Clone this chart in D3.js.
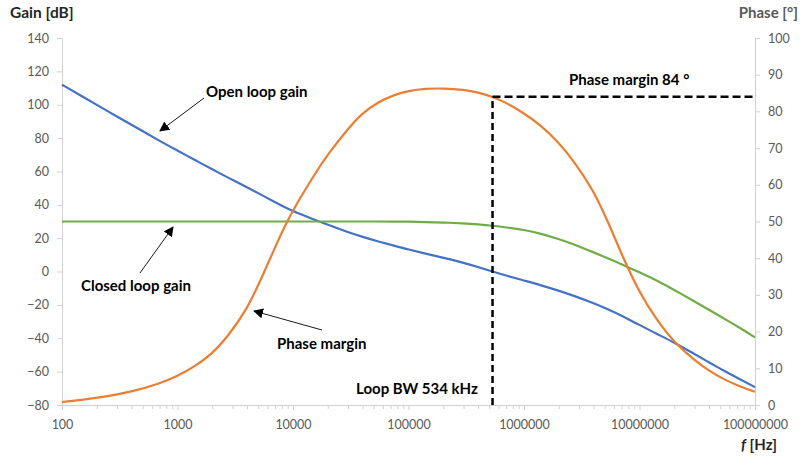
<!DOCTYPE html>
<html>
<head>
<meta charset="utf-8">
<script src="https://cdn.jsdelivr.net/npm/d3@7"></script>
<style>
  html, body { margin: 0; padding: 0; background: #fff; }
  svg { display: block; font-family: Lato, "Open Sans", sans-serif; }
</style>
</head>
<body>
<svg id="chart" width="800" height="459"></svg>
<script>
// Frequency sweep (Hz)
const freqs = [100, 150, 250, 400, 700, 1000, 1400, 2000, 2700, 4000, 5500, 7000, 9000,
  12000, 15000, 20000, 30000, 40000, 55000, 75000, 100000, 140000, 200000, 300000,
  400000, 534000, 700000, 1000000, 1400000, 2000000, 2700000, 4000000, 5500000,
  7000000, 10000000, 14000000, 20000000, 30000000, 40000000, 55000000, 75000000, 100000000];

// Open loop gain (dB)
const openLoopGain = [112, 105, 96, 88, 78.3, 72.5, 67, 61.3, 56.5, 50.5, 45.5, 41.5, 37.6,
  34, 31.3, 28.1, 23.6, 20.8, 18, 15.5, 13.2, 10.8, 8.3, 5.3,
  2.7, 0, -2.4, -5.4, -8.2, -11.5, -14.5, -19, -23,
  -26.5, -32, -37.3, -42.5, -49.5, -54.5, -59.8, -64.8, -69.3];

// Closed loop gain (dB)
const closedLoopGain = [30, 30, 30, 30, 30, 30, 30, 30, 30, 30, 30, 30, 30,
  30, 30, 30, 30, 30, 30, 30, 29.9, 29.7, 29.4, 28.9,
  28.3, 27.5, 26.5, 25, 22.8, 19.5, 16.3, 11.5, 7.5,
  4.4, -0.5, -5.2, -11, -18, -23, -28.5, -34, -39.5];

// Loop phase (degrees, right axis)
const phase = [0.8, 1.4, 2.4, 3.6, 5.8, 7.9, 10.4, 14, 18.5, 26, 35.5, 43, 50.5,
  57.3, 62.3, 68.3, 75.3, 79.6, 82.6, 84.5, 85.6, 86.2, 86.3, 85.9,
  85.2, 84, 82.4, 79.5, 76.2, 71.5, 66.5, 58.5, 49,
  41, 30.5, 23.3, 17, 12.2, 9.3, 6.8, 5, 3.6];

// Axis ticks
const gainTicks = [140, 120, 100, 80, 60, 40, 20, 0, -20, -40, -60, -80];
const phaseTicks = [100, 90, 80, 70, 60, 50, 40, 30, 20, 10, 0];
const freqTicks = [100, 1000, 10000, 100000, 1000000, 10000000, 100000000];

// Loop bandwidth marker
const loopBW = 534000;
const phaseMargin = 84;

const svg = d3.select("#chart");
const plotL = 62, plotR = 755, plotT = 38, plotB = 405;

const x = d3.scaleLog().domain([100, 1e8]).range([plotL, plotR]);
const yGain = d3.scaleLinear().domain([-80, 140]).range([plotB, plotT]);
const yPhase = d3.scaleLinear().domain([0, 100]).range([plotB, plotT]);

const axisColor = "#d0d0d0";
const labelColor = "#595959";

// Left axis
svg.append("g").attr("transform", `translate(${plotL},0)`)
  .call(d3.axisLeft(yGain).tickValues(gainTicks).tickSize(5).tickPadding(8).tickFormat(d3.format("d")));
// Right axis
svg.append("g").attr("transform", `translate(${plotR},0)`)
  .call(d3.axisRight(yPhase).tickValues(phaseTicks).tickSize(5).tickPadding(8).tickFormat(d3.format("d")));
// Bottom axis: decades labelled, minor ticks between
const minorTicks = [];
for (let e = 2; e < 8; e++) for (let m = 2; m <= 9; m++) minorTicks.push(m * Math.pow(10, e));
svg.append("g").attr("transform", `translate(0,${plotB})`)
  .call(d3.axisBottom(x).tickValues(minorTicks).tickSize(4).tickFormat(""))
  .call(g => g.select(".domain").remove());
svg.append("g").attr("transform", `translate(0,${plotB})`)
  .call(d3.axisBottom(x).tickValues(freqTicks).tickSize(5).tickPadding(10).tickFormat(d3.format("d")));

svg.selectAll(".domain").attr("stroke", axisColor);
svg.selectAll(".tick line").attr("stroke", axisColor);
svg.selectAll(".tick text").attr("fill", labelColor).style("font-size", "12.5px")
  .style("font-family", "Lato, 'Open Sans', sans-serif");

// Curves
const gainLine = vals => d3.line()
  .x((d, i) => x(freqs[i])).y(d => yGain(d)).curve(d3.curveBasis)(vals);
const phaseLine = d3.line()
  .x((d, i) => x(freqs[i])).y(d => yPhase(d)).curve(d3.curveBasis);

svg.append("path").attr("d", gainLine(openLoopGain))
  .attr("fill", "none").attr("stroke", "#4472C4").attr("stroke-width", 2.2);
svg.append("path").attr("d", gainLine(closedLoopGain))
  .attr("fill", "none").attr("stroke", "#70AD47").attr("stroke-width", 2.2);
svg.append("path").attr("d", phaseLine(phase))
  .attr("fill", "none").attr("stroke", "#ED7D31").attr("stroke-width", 2.2);

// Loop bandwidth / phase margin markers
svg.append("line")
  .attr("x1", x(loopBW)).attr("x2", x(loopBW))
  .attr("y1", plotB).attr("y2", yPhase(phaseMargin))
  .attr("stroke", "#000").attr("stroke-width", 2.5).attr("stroke-dasharray", "7,4");
svg.append("line")
  .attr("x1", x(loopBW)).attr("x2", plotR)
  .attr("y1", yPhase(phaseMargin)).attr("y2", yPhase(phaseMargin))
  .attr("stroke", "#000").attr("stroke-width", 2.5).attr("stroke-dasharray", "8,4");

// Arrow marker
svg.append("defs").append("marker")
  .attr("id", "arrow").attr("viewBox", "0 0 10 10").attr("refX", 9).attr("refY", 5)
  .attr("markerWidth", 10).attr("markerHeight", 10).attr("markerUnits", "userSpaceOnUse")
  .attr("orient", "auto")
  .append("path").attr("d", "M0,0 L10,5 L0,10 Z").attr("fill", "#000");

const arrows = [
  [204, 98, 160, 131],
  [140, 273, 173, 227],
  [322, 330, 254, 311]
];
svg.selectAll(".arrow").data(arrows).join("line").attr("class", "arrow")
  .attr("x1", d => d[0]).attr("y1", d => d[1]).attr("x2", d => d[2]).attr("y2", d => d[3])
  .attr("stroke", "#000").attr("stroke-width", 0.9).attr("marker-end", "url(#arrow)");

// Annotations
const notes = [
  { t: "Open loop gain", x: 206, y: 97 },
  { t: "Closed loop gain", x: 81, y: 291 },
  { t: "Phase margin", x: 277, y: 349 },
  { t: "Loop BW 534 kHz", x: 356, y: 394 },
  { t: "Phase margin 84 °", x: 569, y: 85 }
];
svg.selectAll(".note").data(notes).join("text").attr("class", "note")
  .attr("x", d => d.x).attr("y", d => d.y).text(d => d.t)
  .attr("fill", "#000").style("font-size", "15px").style("font-weight", "bold");

// Axis titles
svg.append("text").attr("x", 10).attr("y", 18).text("Gain [dB]")
  .attr("fill", "#262626").style("font-size", "15.5px").style("font-weight", "bold");
svg.append("text").attr("x", 798).attr("y", 18).attr("text-anchor", "end").text("Phase [°]")
  .attr("fill", labelColor).style("font-size", "15px").style("font-weight", "bold");
const fl = svg.append("text").attr("x", 777).attr("y", 450).attr("text-anchor", "end")
  .attr("fill", "#262626").style("font-size", "15px").style("font-weight", "bold");
fl.append("tspan").style("font-style", "italic").text("f");
fl.append("tspan").text(" [Hz]");
</script>
</body>
</html>
